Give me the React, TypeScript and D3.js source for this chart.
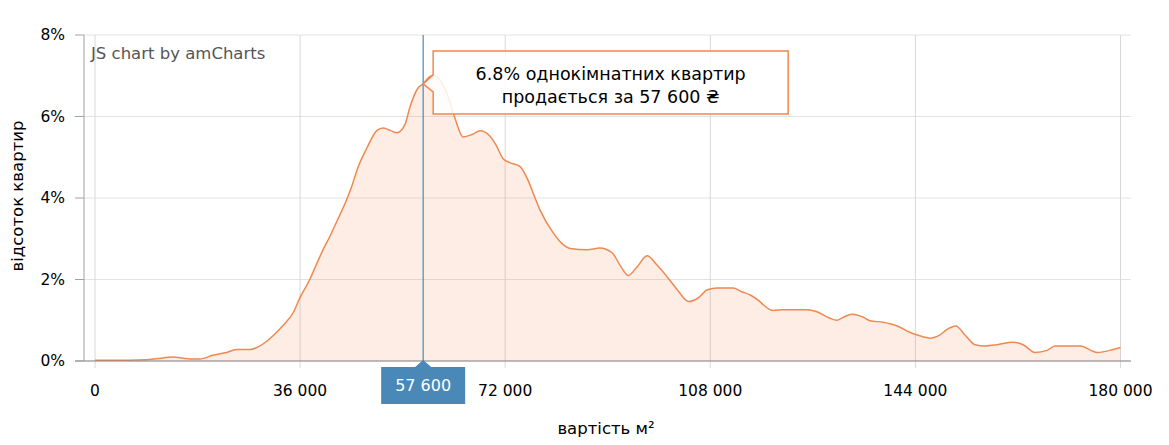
import * as d3 from 'd3';

// ціна м² (грн) та частка квартир (%)
const prices = [
  0, 3000, 6000, 9000, 11000, 13700, 15500, 16700, 18400, 20700, 22800, 24900, 27200, 28800,
  30200, 31700, 33000, 34800, 36000, 37700, 38800, 40000, 41200, 42700, 44200, 45100, 46000,
  47700, 49500, 50600, 51800, 53000, 54400, 55300, 56700, 57600, 58500, 59300, 60500, 61800,
  63200, 64600, 66200, 67600, 69300, 70400, 71600, 72800, 74600, 76000, 77100, 78100, 80400,
  82000, 83400, 86400, 88600, 90800, 92200, 93600, 95100, 96900, 98600, 100400, 102200, 104200,
  105800, 107500, 109200, 112000, 113500, 115000, 116500, 117300, 119000, 120800, 125000, 126700,
  129000, 130200, 131300, 132900, 134800, 136000, 138300, 140800, 143100, 144500, 146600, 148300,
  149500, 151100, 152700, 154500, 156200, 158300, 161100, 162900, 165000, 167100, 168500, 171100,
  172900, 175900, 178700, 180000,
];
const shares = [
  0.02, 0.02, 0.02, 0.03, 0.06, 0.1, 0.07, 0.05, 0.05, 0.14, 0.2, 0.28, 0.28, 0.36,
  0.49, 0.68, 0.87, 1.19, 1.56, 2.0, 2.35, 2.72, 3.05, 3.5, 3.97, 4.3, 4.69,
  5.22, 5.66, 5.72, 5.66, 5.6, 5.8, 6.24, 6.7, 6.8, 6.95, 7.01, 6.9, 6.56,
  5.95, 5.5, 5.56, 5.65, 5.52, 5.3, 4.97, 4.87, 4.77, 4.44, 4.05, 3.71, 3.15,
  2.88, 2.76, 2.73, 2.77, 2.65, 2.34, 2.1, 2.3, 2.58, 2.36, 2.07, 1.75, 1.46,
  1.54, 1.75, 1.79, 1.79, 1.7, 1.62, 1.48, 1.38, 1.24, 1.26, 1.26, 1.21,
  1.05, 1.0, 1.07, 1.15, 1.08, 0.99, 0.95, 0.86, 0.7, 0.63, 0.56, 0.64,
  0.77, 0.86, 0.64, 0.4, 0.37, 0.4, 0.46, 0.4, 0.21, 0.26, 0.37, 0.37,
  0.37, 0.21, 0.28, 0.33,
];
const xTicks = [0, 36000, 72000, 108000, 144000, 180000];
const yTicks = [0, 2, 4, 6, 8];
const cursorPrice = 57600;
const cursorShare = 6.8;

const W = 1169;
const H = 445;
const plot = { left: 84, right: 1131, top: 35, bottom: 361 };
const font = '"DejaVu Sans", Verdana, sans-serif';
const orange = '#f0884f';
const blue = '#4a89b7';

const fmt = (v: number) => d3.format(',')(v).replace(/,/g, ' ');

export default function App() {
  const x = d3.scaleLinear().domain([0, 180000]).range([95, 1120.5]);
  const y = d3.scaleLinear().domain([0, 8]).range([plot.bottom, plot.top]);
  const pts: [number, number][] = prices.map((p, i) => [p, shares[i]]);

  const line = d3
    .line<[number, number]>()
    .x(d => x(d[0]))
    .y(d => y(d[1]))
    .curve(d3.curveMonotoneX);
  const area = d3
    .area<[number, number]>()
    .x(d => x(d[0]))
    .y0(y(0))
    .y1(d => y(d[1]))
    .curve(d3.curveMonotoneX);

  const cx = x(cursorPrice);
  const cy = y(cursorShare);
  const tip = { x: cx + 10, y: 51, w: 355, h: 63 };

  return (
    <svg width={W} height={H} style={{ display: 'block', margin: '-8px' }} fontFamily={font}>
      {/* grid */}
      {yTicks.map(t => (
        <line key={'gy' + t} x1={plot.left} x2={plot.right} y1={y(t)} y2={y(t)} stroke="#e2e2e2" />
      ))}
      {xTicks.map(t => (
        <line key={'gx' + t} x1={x(t)} x2={x(t)} y1={plot.top} y2={plot.bottom + 7} stroke="#d8d8d8" />
      ))}

      <text x={91} y={59} fontSize={16.5} fill="#555">JS chart by amCharts</text>

      <path d={area(pts) ?? ''} fill="rgba(240,136,79,0.15)" />
      <path d={line(pts) ?? ''} fill="none" stroke={orange} strokeWidth={1.5} />

      {/* axes */}
      <line x1={plot.left} x2={plot.left} y1={plot.top} y2={plot.bottom} stroke="#a0a0a0" />
      <line x1={plot.left - 9} x2={plot.right} y1={plot.bottom} y2={plot.bottom} stroke="#888" strokeWidth={1.2} />
      {yTicks.map(t => (
        <g key={'yt' + t}>
          <line x1={plot.left - 9} x2={plot.left} y1={y(t)} y2={y(t)} stroke="#a0a0a0" />
          <text x={65} y={y(t)} dy="0.35em" textAnchor="end" fontSize={15.5} fill="#000">{t}%</text>
        </g>
      ))}
      {xTicks.map(t => (
        <text key={'xt' + t} x={x(t)} y={396} textAnchor="middle" fontSize={15.5} fill="#000">{fmt(t)}</text>
      ))}

      <text x={606} y={434} textAnchor="middle" fontSize={16.5} fill="#000">вартість м²</text>
      <text transform={`translate(23,${(plot.top + plot.bottom) / 2 - 2}) rotate(-90)`} textAnchor="middle" fontSize={16.5} fill="#000">
        відсоток квартир
      </text>

      {/* cursor */}
      <line x1={cx} x2={cx} y1={plot.top} y2={plot.bottom} stroke={blue} strokeWidth={1.2} />
      <path d={`M${cx - 42},367 H${cx - 8} L${cx},360 L${cx + 8},367 H${cx + 42} V404 H${cx - 42} Z`} fill={blue} />
      <text x={cx} y={391} textAnchor="middle" fontSize={16} fill="#fff">{fmt(cursorPrice)}</text>

      {/* tooltip */}
      <path
        d={`M${tip.x},${tip.y} H${tip.x + tip.w} V${tip.y + tip.h} H${tip.x} V${cy + 8} L${cx},${cy} L${tip.x},${cy - 9} Z`}
        fill="rgba(255,255,255,0.85)"
        stroke={orange}
        strokeWidth={1.5}
      />
      <text x={tip.x + tip.w / 2} y={80} textAnchor="middle" fontSize={17.5} fill="#000">
        {cursorShare}% однокімнатних квартир
      </text>
      <text x={tip.x + tip.w / 2} y={103} textAnchor="middle" fontSize={17.5} fill="#000">
        продається за {fmt(cursorPrice)} ₴
      </text>
    </svg>
  );
}
